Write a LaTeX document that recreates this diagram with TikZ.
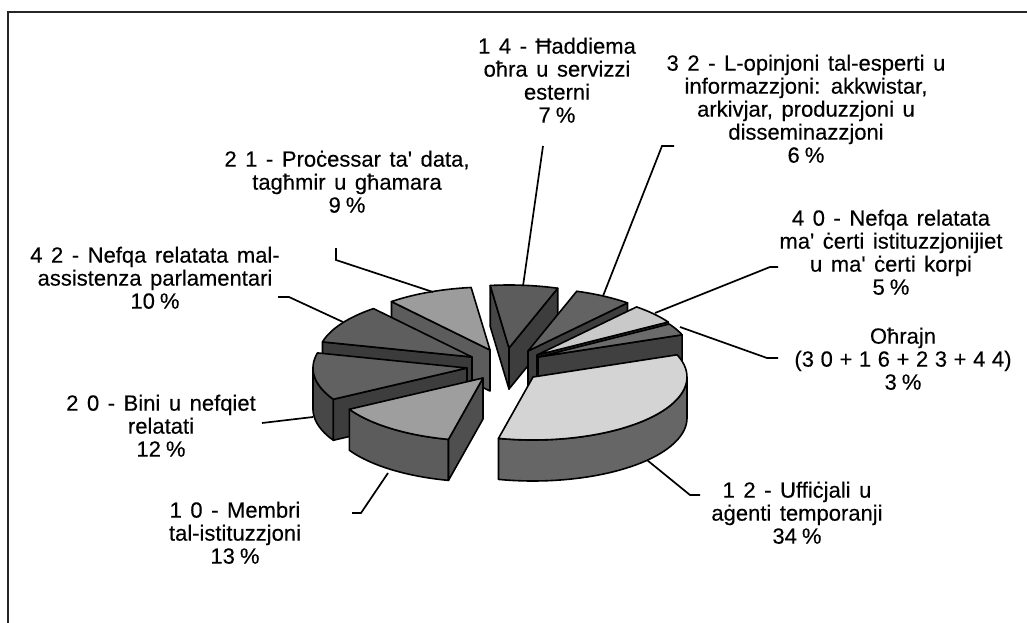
\documentclass[tikz,border=0pt]{standalone}
\usepackage{fontspec}
\setmainfont{Liberation Sans}[WordSpace=1.4, Ligatures=TeXOff, FakeBold=0.3]
\newcommand\pc{\hspace{0.23em}\%}
\newcommand\ts{\hspace{0.3em}}
\def\RX{154}\def\RY{63}\def\HH{41}
\newcommand\topface[5]{%
  \filldraw[pieedge, fill=#5] (#1,#2) -- plot[domain=#3:#4, samples=40] ({#1+\RX*cos(\x)},{#2-\RY*sin(\x)}) -- cycle;}
\newcommand\rimside[5]{%
  \filldraw[pieedge, fill=#5] plot[domain=#3:#4, samples=40] ({#1+\RX*cos(\x)},{#2-\RY*sin(\x)}) -- plot[domain=#4:#3, samples=40] ({#1+\RX*cos(\x)},{#2+\HH-\RY*sin(\x)}) -- cycle;}
\newcommand\cutface[4]{%
  \filldraw[pieedge, fill=#4] (#1,#2) -- ({#1+\RX*cos(#3)},{#2-\RY*sin(#3)}) -- ++(0,\HH) -- (#1,#2+\HH) -- cycle;}
\begin{document}
\begin{tikzpicture}[x=1pt,y=-1pt,
  pieedge/.style={draw=black, line width=1.6pt, line join=round},
  conn/.style={draw=black, line width=1.7pt, line join=miter},
  lbl/.style={align=center, anchor=north, inner sep=0pt, font=\fontsize{22}{23}\selectfont}]
\useasboundingbox (0,0) rectangle (1027,623);
% frame
\draw[line width=2pt, draw=black!85] (8,623) -- (8,12) -- (1027,12);
% ---- pie slices (back to front) ----
% 14 (7%)
\cutface{509}{348}{97}{black!72}
\cutface{509}{348}{71.55}{black!76}
\topface{509}{348}{97}{71.55}{black!64}
% 21 (9%)
\cutface{490}{350}{129.77}{black!64}
\topface{490}{350}{129.77}{97.04}{black!39}
% 32 (6%)
\cutface{528}{351}{49.73}{black!76}
\topface{528}{351}{71.55}{49.73}{black!61}
% 42 (10%)
\cutface{472}{357}{166.13}{black!77}
\topface{472}{357}{166.13}{129.77}{black!63}
% 40 (5%)
\cutface{537}{355}{31.55}{black!77}
\topface{537}{355}{49.73}{31.55}{black!21}
% Others (3%)
\cutface{538}{357}{20.64}{black!75}
\topface{538}{357}{31.55}{20.64}{black!58}
% 20 (12%)
\rimside{467}{368}{-150.23}{-180}{black!72}
\cutface{467}{368}{-150.23}{black!76}
\topface{467}{368}{-150.23}{-193.87}{black!62}
% 12 (34%)
\rimside{533}{377}{0}{-102.96}{black!60}
\topface{533}{377}{20.64}{-102.96}{black!17}
% 10 (13%)
\rimside{483}{378}{-102.96}{-150.23}{black!64}
\cutface{483}{378}{-102.96}{black!69}
\topface{483}{378}{-102.96}{-150.23}{black!38}
% ---- anchor points on the slices ----
\coordinate (s14) at (523,286);
\coordinate (s32) at (603,296);
\coordinate (s40) at (655,313);
\coordinate (sOt) at (680,327);
\coordinate (s12) at (647,460);
\coordinate (s10) at (388,473);
\coordinate (s20) at (313,417);
\coordinate (s42) at (343,322);
\coordinate (s21) at (433,292);
% ---- labels ----
\node[lbl] (l14) at (557,37.5) {1 4 - Ħaddiema\\oħra u servizzi\\esterni\\7\pc};
\node[lbl] (l32) at (806,54.5) {3 2 - L-opinjoni tal-esperti u\\informazzjoni: akkwistar,\\arkivjar, produzzjoni u\\disseminazzjoni\\6\pc};
\node[lbl] (l21) at (347,150.5) {2 1 - Proċessar ta' data,\\tagħmir u għamara\\9\pc};
\node[lbl] (l42) at (155,246.5) {4 2 - Nefqa relatata mal-\\assistenza parlamentari\\10\pc};
\node[lbl] (l40) at (891,209.5) {4 0 - Nefqa relatata\\ma' ċerti istituzzjonijiet\\u ma' ċerti korpi\\5\pc};
\node[lbl] (lOt) at (903,327.5) {Oħrajn\\(3\ts0\ts+\ts1\ts6\ts+\ts2\ts3\ts+\ts4\ts4)\\3\pc};
\node[lbl] (l20) at (161,394.5) {2 0 - Bini u nefqiet\\relatati\\12\pc};
\node[lbl] (l10) at (235,501.5) {1 0 - Membri\\tal-istituzzjoni\\13\pc};
\node[lbl] (l12) at (797,481.5) {1 2 - Uffiċjali u\\aġenti temporanji\\34\pc};
% ---- connector ends near labels ----
\coordinate (c14) at (543,146);
\coordinate (c32a) at (674,146);
\coordinate (c32b) at (662,146);
\coordinate (c21a) at (336,248);
\coordinate (c21b) at (336,260);
\coordinate (c42a) at (278,297);
\coordinate (c42b) at (289,297);
\coordinate (c20) at (262,423);
\coordinate (c10a) at (352,513);
\coordinate (c10b) at (361,513);
\coordinate (c12a) at (700,495);
\coordinate (c12b) at (690,495);
\coordinate (c40a) at (778,267);
\coordinate (c40b) at (770,267);
\coordinate (cOta) at (778,358);
\coordinate (cOtb) at (767,358);
% ---- connectors ----
\draw[conn] (c14) -- (s14);
\draw[conn] (c32a) -- (c32b) -- (s32);
\draw[conn] (c21a) -- (c21b) -- (s21);
\draw[conn] (c42a) -- (c42b) -- (s42);
\draw[conn] (c20) -- (s20);
\draw[conn] (c10a) -- (c10b) -- (s10);
\draw[conn] (c12a) -- (c12b) -- (s12);
\draw[conn] (c40a) -- (c40b) -- (s40);
\draw[conn] (cOta) -- (cOtb) -- (sOt);
\end{tikzpicture}
\end{document}
